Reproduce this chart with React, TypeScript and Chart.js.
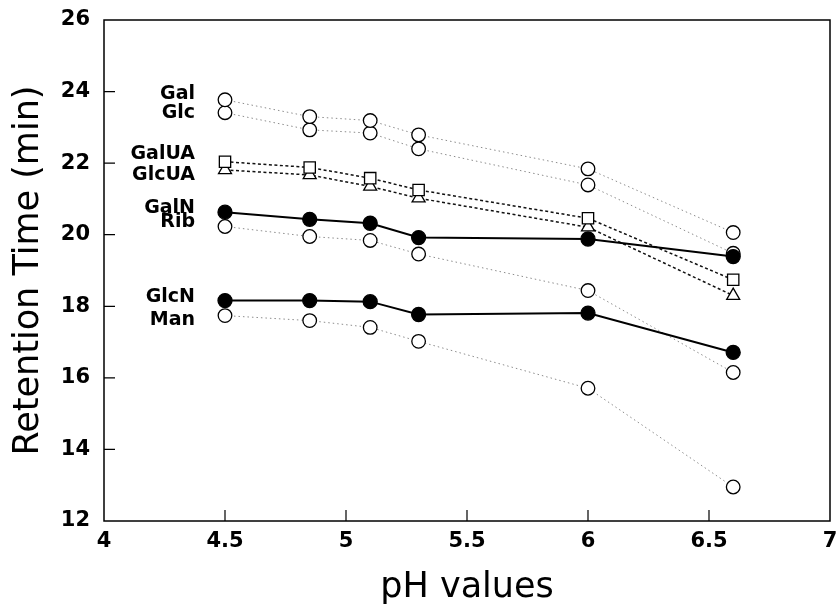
import React, { useEffect, useRef } from "react";
import { Chart, registerables } from "chart.js";

Chart.register(...registerables);

// ---- data ----
const phValues = [4.5, 4.85, 5.1, 5.3, 6.0, 6.6];
const sugarNames = ["Gal", "Glc", "GalUA", "GlcUA", "GalN", "Rib", "GlcN", "Man"];
const galValues = [23.77, 23.3, 23.19, 22.79, 21.84, 20.06];
const glcValues = [23.41, 22.93, 22.84, 22.4, 21.39, 19.48];
const galuaValues = [22.04, 21.88, 21.58, 21.25, 20.46, 18.74];
const glcuaValues = [21.81, 21.67, 21.35, 21.02, 20.21, 18.3];
const galnValues = [20.63, 20.43, 20.32, 19.92, 19.88, 19.39];
const ribValues = [20.23, 19.95, 19.84, 19.46, 18.44, 16.15];
const glcnValues = [18.16, 18.16, 18.13, 17.77, 17.81, 16.71];
const manValues = [17.74, 17.6, 17.41, 17.02, 15.71, 12.95];
const xTickValues = [4, 4.5, 5, 5.5, 6, 6.5, 7];
const yTickValues = [12, 14, 16, 18, 20, 22, 24, 26];
const xAxisTitle = "pH values";
const yAxisTitle = "Retention Time (min)";

const FONT = "'DejaVu Sans', 'Liberation Sans', Arial, sans-serif";

type Kind = "dotted" | "dashed" | "solid";
const seriesKinds: Kind[] = ["dotted", "dotted", "dashed", "dashed", "solid", "dotted", "solid", "dotted"];
const seriesMarkers = ["circle", "circle", "rect", "triangle", "circle", "circle", "circle", "circle"];
const seriesFilled = [false, false, false, false, true, false, true, false];
// small vertical pixel nudges for the name labels (style only)
const labelNudge = [-6, 0, -8, 5, -4, -4, -3, 4];

const allValues = [galValues, glcValues, galuaValues, glcuaValues, galnValues, ribValues, glcnValues, manValues];

const decorPlugin = {
  id: "decor",
  afterDraw(chart: any) {
    const { ctx, chartArea } = chart;
    const xs = chart.scales.x;
    const ys = chart.scales.y;
    ctx.save();
    // frame
    ctx.strokeStyle = "#000";
    ctx.lineWidth = 1.5;
    ctx.strokeRect(chartArea.left, chartArea.top, chartArea.right - chartArea.left, chartArea.bottom - chartArea.top);
    // inward ticks
    ctx.lineWidth = 1.2;
    ctx.beginPath();
    xTickValues.forEach((v) => {
      if (v === xs.min || v === xs.max) return;
      const px = xs.getPixelForValue(v);
      ctx.moveTo(px, chartArea.bottom);
      ctx.lineTo(px, chartArea.bottom - 11);
    });
    yTickValues.forEach((v) => {
      if (v === ys.min || v === ys.max) return;
      const py = ys.getPixelForValue(v);
      ctx.moveTo(chartArea.left, py);
      ctx.lineTo(chartArea.left + 11, py);
    });
    ctx.stroke();
    // series name labels
    ctx.fillStyle = "#000";
    ctx.font = `bold 19px ${FONT}`;
    ctx.textAlign = "right";
    ctx.textBaseline = "middle";
    const lx = xs.getPixelForValue(phValues[0]) - 30;
    sugarNames.forEach((name, i) => {
      const ly = ys.getPixelForValue(allValues[i][0]) + labelNudge[i];
      ctx.fillText(name, lx, ly);
    });
    ctx.restore();
  },
};

export default function App() {
  const canvasRef = useRef<HTMLCanvasElement | null>(null);

  useEffect(() => {
    document.body.style.margin = "0";
    const canvas = canvasRef.current;
    if (!canvas) return;

    const styleFor = (kind: Kind) => {
      if (kind === "solid") return { borderColor: "#000", borderWidth: 2, borderDash: [] as number[], order: 0 };
      if (kind === "dashed") return { borderColor: "#111", borderWidth: 1.5, borderDash: [3, 2.5], order: 1 };
      return { borderColor: "#8c8c8c", borderWidth: 1, borderDash: [1.5, 3], order: 2 };
    };

    const datasets = sugarNames.map((name, i) => {
      const st = styleFor(seriesKinds[i]);
      const marker = seriesMarkers[i];
      const filled = seriesFilled[i];
      const radius = marker === "rect" ? 8 : marker === "triangle" ? 7.5 : filled ? 7 : 6.8;
      return {
        label: name,
        data: phValues.map((x, j) => ({ x, y: allValues[i][j] })),
        borderColor: st.borderColor,
        borderWidth: st.borderWidth,
        borderDash: st.borderDash,
        order: st.order,
        showLine: true,
        tension: 0,
        fill: false,
        pointStyle: marker,
        pointRadius: radius,
        pointBackgroundColor: filled ? "#000" : "#fff",
        pointBorderColor: "#000",
        pointBorderWidth: 1.3,
      };
    });

    const chart = new Chart(canvas, {
      type: "scatter",
      data: { datasets: datasets as any },
      options: {
        responsive: false,
        animation: false,
        layout: { padding: { left: 0, right: 10, top: 20, bottom: 0 } },
        plugins: {
          legend: { display: false },
          tooltip: { enabled: false },
        },
        scales: {
          x: {
            type: "linear",
            min: 4,
            max: 7,
            afterFit: (scale: any) => {
              scale.height = 86;
              scale.paddingLeft = 0;
              scale.paddingRight = 0;
            },
            afterBuildTicks: (scale: any) => {
              scale.ticks = xTickValues.map((v) => ({ value: v }));
            },
            grid: { display: false, drawTicks: false },
            border: { display: false },
            ticks: {
              color: "#000",
              padding: 8,
              maxRotation: 0,
              autoSkip: false,
              font: { family: FONT, size: 21, weight: "bold" },
              callback: (v: any) => String(v),
            },
            title: {
              display: true,
              text: xAxisTitle,
              color: "#000",
              font: { family: FONT, size: 35, lineHeight: 1 },
              padding: { top: 0, bottom: 1.5 },
            },
          },
          y: {
            type: "linear",
            min: 12,
            max: 26,
            afterFit: (scale: any) => {
              scale.width = 104;
              scale.paddingTop = 0;
              scale.paddingBottom = 0;
            },
            afterBuildTicks: (scale: any) => {
              scale.ticks = yTickValues.map((v) => ({ value: v }));
            },
            grid: { display: false, drawTicks: false },
            border: { display: false },
            ticks: {
              color: "#000",
              padding: 14,
              autoSkip: false,
              font: { family: FONT, size: 21, weight: "bold" },
              callback: (v: any) => String(v),
            },
            title: {
              display: true,
              text: yAxisTitle,
              color: "#000",
              font: { family: FONT, size: 35, lineHeight: 1 },
              padding: { top: 11, bottom: 0 },
            },
          },
        },
      } as any,
      plugins: [decorPlugin],
    });

    return () => {
      chart.destroy();
    };
  }, []);

  return (
    <div style={{ width: 840, height: 607, background: "#fff" }}>
      <canvas ref={canvasRef} width={840} height={607} style={{ display: "block" }} />
    </div>
  );
}
